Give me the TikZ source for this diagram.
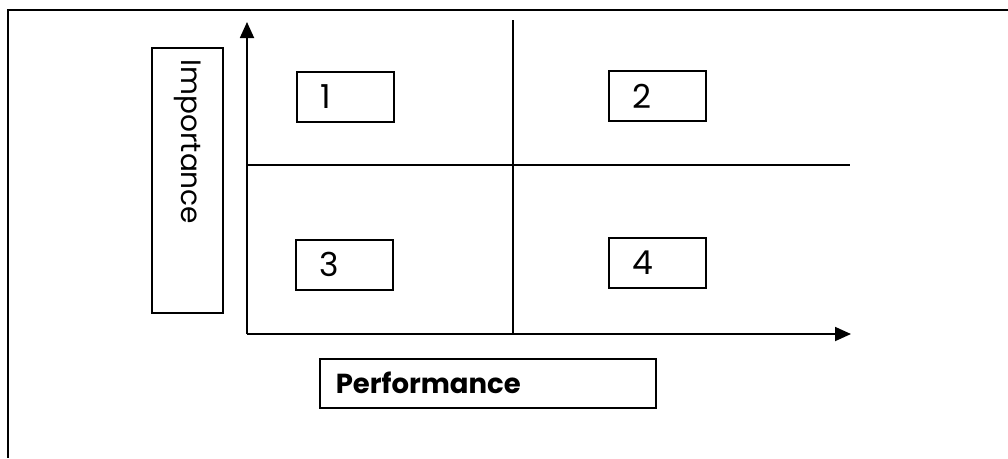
\documentclass[tikz,border=0pt]{standalone}
\usepackage{fontspec}
\setmainfont{Poppins}
\usetikzlibrary{arrows.meta}
\tikzset{
  quad/.style={draw, line width=1.8pt, minimum width=97pt, minimum height=50pt, inner xsep=24pt, inner ysep=0pt, text width=49pt, align=left, font=\fontsize{33}{34}\selectfont, anchor=north west},
  axis/.style={line width=1.8pt, -{Triangle[length=16pt,width=14pt]}},
  divider/.style={line width=1.4pt},
  labelbox/.style={draw, line width=1.6pt}
}
\begin{document}
\begin{tikzpicture}[x=1pt,y=-1pt]
\useasboundingbox (0,0) rectangle (1008,458);
% outer frame
\coordinate (fr1) at (1008,10);
\coordinate (fr2) at (8,10);
\coordinate (fr3) at (8,458);
\draw[line width=1.6pt] (fr1) -- (fr2) -- (fr3);
% axes
\coordinate (O) at (247,334);
\coordinate (ytip) at (247,22);
\coordinate (xtip) at (851,334);
\draw[axis] (O) -- (ytip);
\draw[axis] (O) -- (xtip);
% dividers
\coordinate (hL) at (247,165);
\coordinate (hR) at (850,165);
\coordinate (vT) at (513,20);
\coordinate (vB) at (513,334);
\draw[divider] (hL) -- (hR);
\draw[divider] (vT) -- (vB);
% quadrant boxes
\node[quad] (q1) at (296,71) {1};
\node[quad] (q2) at (608,70) {2};
\node[quad] (q3) at (295,239) {3};
\node[quad] (q4) at (608,237) {4};
% axis labels
\node[labelbox, minimum width=336pt, minimum height=49pt, inner xsep=16pt, inner ysep=0pt, text width=304pt, align=left, anchor=north west, font=\bfseries\fontsize{27.5}{30}\selectfont] (perf) at (319,358) {Performance};
\node[labelbox, rotate=-90, minimum width=265pt, minimum height=71pt, inner xsep=12pt, inner ysep=0pt, text width=241pt, align=left, anchor=north west, font=\fontsize{28}{30}\selectfont] (imp) at (224,47) {Importance};
\end{tikzpicture}
\end{document}
